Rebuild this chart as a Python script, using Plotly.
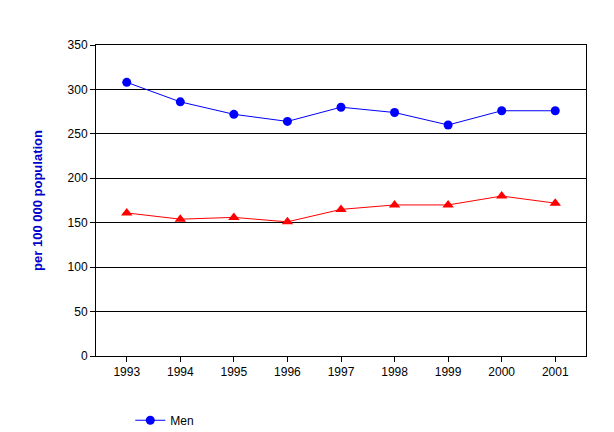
import plotly.graph_objects as go

years = ["1993","1994","1995","1996","1997","1998","1999","2000","2001"]
men = [308, 286, 272, 264, 280, 274, 260, 276, 276]
women = [161, 154, 156, 151, 165, 170, 170, 180, 172]

fig = go.Figure()
fig.add_trace(go.Scatter(x=years, y=men, name="Men", mode="lines+markers",
    line=dict(color="#0000FF", width=1), marker=dict(symbol="circle", size=9, color="#0000FF")))
fig.add_trace(go.Scatter(x=years, y=women, name="Women", mode="lines+markers",
    line=dict(color="#FF0000", width=1), marker=dict(symbol="triangle-up", size=10, color="#FF0000")))

fig.update_layout(
    width=614, height=432, paper_bgcolor="white", plot_bgcolor="white",
    margin=dict(l=88, r=36, t=37, b=84, autoexpand=False),
    font=dict(family="Liberation Sans, Arial", size=12, color="black"),
    legend=dict(orientation="h", x=0.07, y=-0.16, xanchor="left", yanchor="top",
                entrywidth=300, entrywidthmode="pixels", font=dict(size=12)),
    xaxis=dict(showline=True, linecolor="black", mirror=True, ticks="outside",
               ticklen=5, tickcolor="black", showgrid=False),
    yaxis=dict(range=[0, 350], dtick=50, showline=True, linecolor="black", mirror=True,
               gridcolor="black", gridwidth=1, ticks="outside", ticklen=5, tickcolor="black",
               title=dict(text="per 100 000 population", font=dict(color="#0000CC", size=13, weight="bold"),
                          standoff=22)),
)
fig.write_html("out.html")
